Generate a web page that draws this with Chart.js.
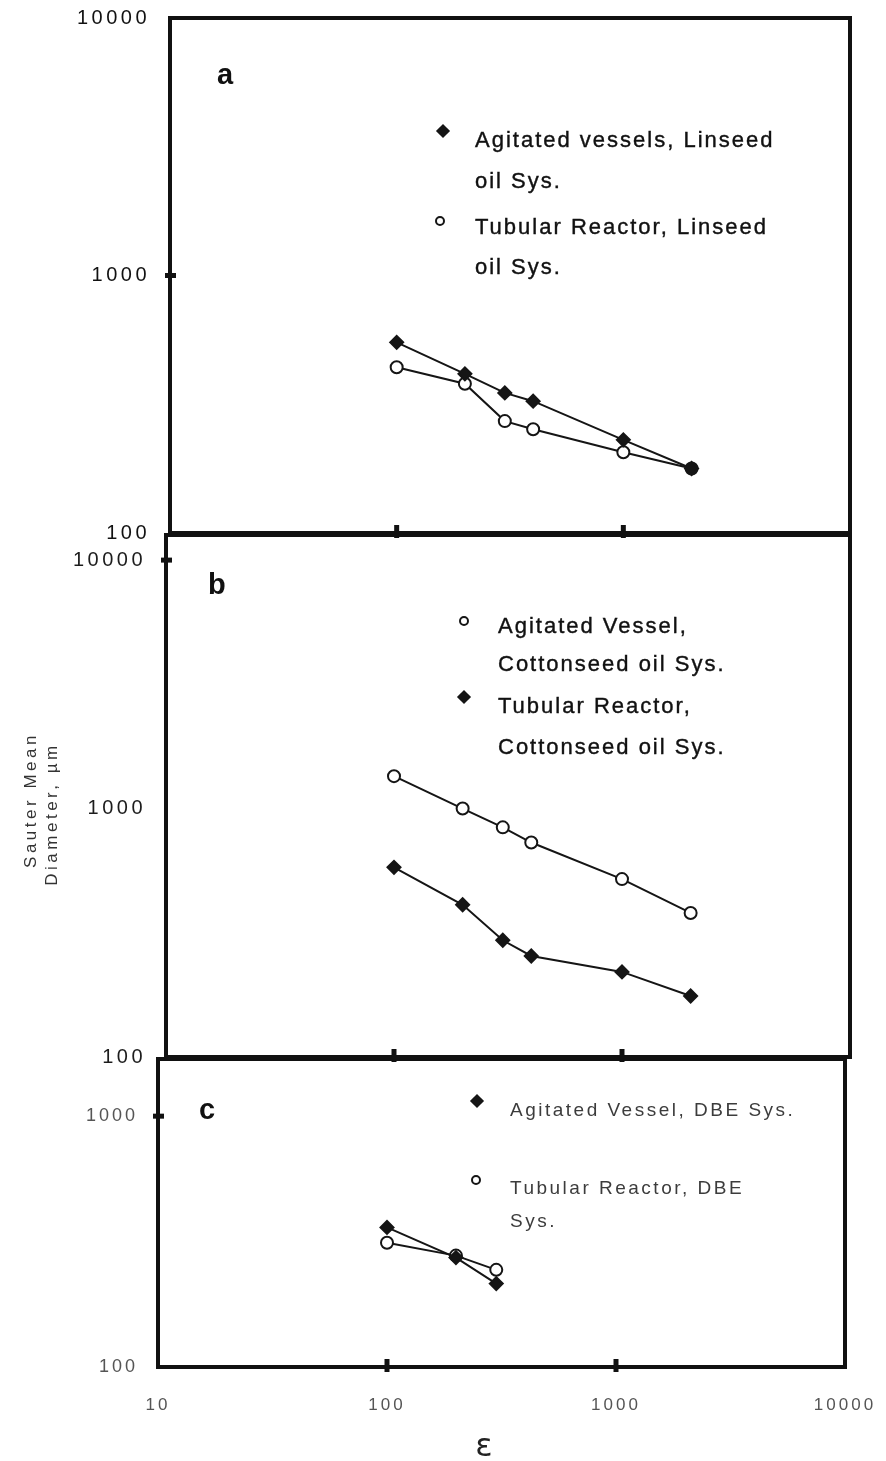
<!DOCTYPE html>
<html><head><meta charset="utf-8">
<script src="https://cdn.jsdelivr.net/npm/chart.js@4/dist/chart.umd.min.js"></script>
<style>
html,body{margin:0;padding:0;background:#fff;}
#page{position:relative;width:886px;height:1461px;overflow:hidden;background:#fff;font-family:"Liberation Sans",Arial,sans-serif;}
canvas{position:absolute;left:0;}
.t{position:absolute;white-space:nowrap;line-height:1;}
.mk{position:absolute;box-sizing:border-box;}
</style></head><body><div id="page">
<canvas id="ca" width="886" height="560" style="top:0px"></canvas>
<canvas id="cb" width="886" height="560" style="top:520px"></canvas>
<canvas id="cc" width="886" height="416" style="top:1045px"></canvas>
</div>
<script>
// ---- data ----
const epsilonAB = [100, 200, 300, 400, 1000, 2000];
const epsilonC = [100, 200, 300];
const aAgitated = [550, 415, 350, 325, 230, 178];
const aTubular = [440, 380, 272, 253, 206, 178];
const bAgitated = [1350, 1000, 840, 730, 520, 380];
const bTubular = [580, 410, 295, 255, 220, 176];
const cAgitated = [360, 273, 215];
const cTubular = [313, 278, 244];
const yTicksAB = [100, 1000, 10000];
const yTicksC = [100, 1000];
const xTicks = [10, 100, 1000, 10000];
const aLabels = [["Agitated vessels, Linseed", "oil  Sys."], ["Tubular Reactor, Linseed", "oil Sys."]];
const bLabels = [["Agitated Vessel,", "Cottonseed oil Sys."], ["Tubular Reactor,", "Cottonseed oil Sys."]];
const cLabels = [["Agitated Vessel, DBE Sys."], ["Tubular Reactor, DBE", "Sys."]];
const panelLetters = ["a", "b", "c"];
const yTitle = ["Sauter Mean", "Diameter, \u00b5m"];
const xTitle = "\u03b5";

// ---- plugin: frame + inner tick marks + letter spacing ----
const framePlugin = {
  id: 'frame',
  beforeDraw(chart, args, o) { chart.ctx.letterSpacing = o.ls || '0px'; },
  beforeDatasetsDraw(chart, args, o) {
    const {ctx, chartArea: a, scales} = chart;
    ctx.save();
    ctx.strokeStyle = '#111';
    ctx.lineWidth = 4;
    ctx.strokeRect(a.left, a.top, a.right - a.left, a.bottom - a.top);
    ctx.lineWidth = 5;
    for (const v of (o.xt || [])) {
      const x = scales.x.getPixelForValue(v);
      ctx.beginPath(); ctx.moveTo(x, a.bottom - 8); ctx.lineTo(x, a.bottom + 5); ctx.stroke();
    }
    for (const v of (o.yt || [])) {
      const y = scales.y.getPixelForValue(v);
      ctx.beginPath(); ctx.moveTo(a.left - 5, y); ctx.lineTo(a.left + 6, y); ctx.stroke();
    }
    ctx.restore();
  }
};

function series(xs, ys, filled) {
  return {
    data: xs.map((x, i) => ({x: x, y: ys[i]})),
    showLine: true, borderColor: '#151515', borderWidth: 2, tension: 0,
    pointStyle: filled ? 'rectRot' : 'circle',
    pointRadius: filled ? 6.5 : 6,
    pointBackgroundColor: filled ? '#151515' : '#fff',
    pointBorderColor: '#151515', pointBorderWidth: 2, clip: false
  };
}

function makeChart(id, c) {
  return new Chart(document.getElementById(id), {
    type: 'scatter',
    data: {datasets: c.datasets},
    options: {
      responsive: false, animation: false, devicePixelRatio: 1, events: [],
      layout: {autoPadding: false, padding: c.pad},
      plugins: {legend: {display: false}, tooltip: {enabled: false},
        frame: {xt: [100, 1000], yt: c.yMarks, ls: c.ls}},
      scales: {
        x: {type: 'logarithmic', min: 10, max: 10000, display: c.showX,
          grid: {display: false, drawTicks: false}, border: {display: false},
          afterBuildTicks: s => { s.ticks = xTicks.map(v => ({value: v})); },
          afterFit: s => { s.height = c.xH || 0; s.paddingLeft = 0; s.paddingRight = 0; s.paddingTop = 0; s.paddingBottom = 0; },
          ticks: {padding: 28, color: '#555', font: {family: '"Liberation Sans", Arial', size: 17},
            maxRotation: 0, autoSkip: false, callback: v => String(v)}},
        y: {type: 'logarithmic', min: 100, max: c.ymax,
          grid: {display: false, drawTicks: false}, border: {display: false},
          afterBuildTicks: s => { s.ticks = c.yTicks.map(v => ({value: v})); },
          afterFit: s => { s.width = c.yW; s.paddingTop = 0; s.paddingBottom = 0; s.paddingLeft = 0; s.paddingRight = 0; },
          ticks: {padding: 20, color: c.tickColor, font: {family: '"Liberation Sans", Arial', size: c.tickSize},
            autoSkip: false, callback: v => String(v)}}
      }
    },
    plugins: [framePlugin]
  });
}

makeChart('ca', {
  datasets: [series(epsilonAB, aAgitated, true), series(epsilonAB, aTubular, false)],
  pad: {left: 10, right: 36, top: 18, bottom: 27}, yW: 160, ymax: 10000,
  yTicks: yTicksAB, yMarks: [1000], showX: false, tickColor: '#111', tickSize: 20, ls: '3.5px'
});
makeChart('cb', {
  datasets: [series(epsilonAB, bAgitated, false), series(epsilonAB, bTubular, true)],
  pad: {left: 10, right: 36, top: 15, bottom: 23}, yW: 156, ymax: 12620,
  yTicks: yTicksAB, yMarks: [10000], showX: false, tickColor: '#1c1c1c', tickSize: 20, ls: '3.5px'
});
makeChart('cc', {
  datasets: [series(epsilonC, cAgitated, true), series(epsilonC, cTubular, false)],
  pad: {left: 10, right: 41, top: 14, bottom: 34}, yW: 148, ymax: 1690, xH: 60,
  yTicks: yTicksC, yMarks: [1000], showX: true, tickColor: '#555', tickSize: 18, ls: '3px'
});

// ---- text overlays ----
const page = document.getElementById('page');
function text(str, x, y, st) {
  const d = document.createElement('div');
  d.className = 't'; d.textContent = str;
  Object.assign(d.style, {left: x + 'px', top: y + 'px'}, st || {});
  page.appendChild(d); return d;
}
function marker(x, y, filled, kind) {
  const d = document.createElement('div'); d.className = 'mk';
  if (kind === 'diamond') {
    Object.assign(d.style, {left: (x - 5) + 'px', top: (y - 5) + 'px', width: '10px', height: '10px',
      background: filled ? '#151515' : '#fff', border: filled ? 'none' : '2px solid #151515', transform: 'rotate(45deg)'});
  } else {
    Object.assign(d.style, {left: (x - 5) + 'px', top: (y - 5) + 'px', width: '10px', height: '10px',
      background: '#fff', border: '2.5px solid #151515', borderRadius: '50%'});
  }
  page.appendChild(d);
}
function legend(labels, filledFlags, x, rows, marks, st, fs) {
  labels.forEach((lines, i) => {
    lines.forEach((ln, j) => text(ln, x, rows[i][j] - fs * 0.55, st));
    const m = marks[i];
    marker(m[0], m[1], filledFlags[i], filledFlags[i] ? 'diamond' : 'circle');
  });
}
const stAB = {fontSize: '22px', letterSpacing: '2px', color: '#111', webkitTextStroke: '0.4px #111'};
legend(aLabels, [true, false], 475, [[141, 182], [228, 268]], [[443, 131], [440, 221]], stAB, 22);
legend(bLabels, [false, true], 498, [[627, 665], [707, 748]], [[464, 621], [464, 697]], stAB, 22);
legend(cLabels, [true, false], 510, [[1110], [1188, 1221]], [[477, 1101], [476, 1180]],
  {fontSize: '19px', letterSpacing: '2.5px', color: '#3c3c3c'}, 19);

const stLetter = {fontSize: '29px', fontWeight: 'bold', color: '#111'};
text(panelLetters[0], 217, 60, stLetter);
text(panelLetters[1], 208, 570, stLetter);
text(panelLetters[2], 199, 1095, stLetter);

const stY = {fontSize: '17px', letterSpacing: '3.5px', color: '#333', transform: 'translate(-50%,-50%) rotate(-90deg)'};
text(yTitle[0], 30, 800, stY);
text(yTitle[1], 51, 814, stY);
text(xTitle, 484, 1445, {fontSize: '32px', color: '#222', transform: 'translate(-50%,-50%)', fontFamily: '"DejaVu Sans", sans-serif'});
</script>
</body></html>
